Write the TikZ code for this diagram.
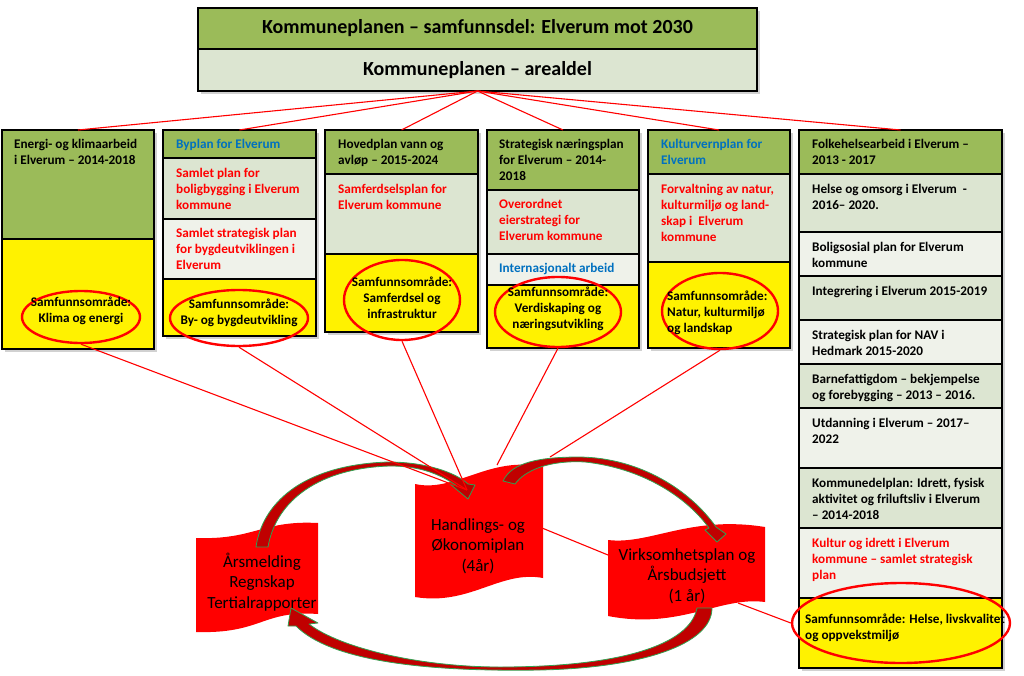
\documentclass[tikz,border=0pt]{standalone}
\usepackage{fontspec}
\setmainfont{Carlito}
\usetikzlibrary{shapes.geometric}
\definecolor{kgreen}{RGB}{155,187,89}
\definecolor{ksage}{RGB}{220,229,209}
\definecolor{kpale}{RGB}{239,242,234}
\definecolor{kblue}{RGB}{0,112,192}
\definecolor{kdarkred}{RGB}{192,0,0}
\definecolor{kline}{RGB}{50,160,80}
\begin{document}
\begin{tikzpicture}[x=1pt,y=-1pt,
	cell/.style={draw=black,line width=1.5pt,inner sep=0pt,outer sep=0pt,anchor=north west},
	txt/.style={anchor=north west,align=left,inner sep=0pt,font=\bfseries\fontsize{13.2}{16}\selectfont},
	ring/.style={ellipse,draw=red,line width=2.4pt,inner sep=0pt},
	rtxt/.style={align=center,inner sep=0pt,font=\bfseries\fontsize{13.2}{16}\selectfont},
	link/.style={draw=red,line width=1.1pt},
	wave/.style={fill=red},
	wtxt/.style={align=center,inner sep=0pt,font=\fontsize{17}{20.5}\selectfont},
	swoop/.style={fill=kdarkred,draw=kline,line width=0.8pt,line join=round}]
	\useasboundingbox (0,0) rectangle (1024,676);

	%shadows
	\fill[black,opacity=0.18] (201,11) rectangle (760,94);
	\fill[black,opacity=0.18] (5,133) rectangle (157,352);
	\fill[black,opacity=0.18] (166,133) rectangle (319,339);
	\fill[black,opacity=0.18] (328,133) rectangle (481,335);
	\fill[black,opacity=0.18] (490,133) rectangle (642,351);
	\fill[black,opacity=0.18] (651,133) rectangle (793,351);
	\fill[black,opacity=0.18] (802,133) rectangle (1005,671);

	%kommuneplan
	\node[cell,fill=kgreen,minimum width=559pt,minimum height=41pt,anchor=north west,font=\bfseries\fontsize{20}{24}\selectfont] (plan1) at (198,8) {Kommuneplanen – samfunnsdel: Elverum mot 2030};
	\node[cell,fill=ksage,minimum width=559pt,minimum height=42pt,font=\bfseries\fontsize{20}{24}\selectfont] (plan2) at (198,49) {Kommuneplanen – arealdel};

	%energi og klima
	\node[cell,fill=kgreen,minimum width=152pt,minimum height=109pt] (k1) at (2,130) {};
	\node[cell,fill=yellow,minimum width=152pt,minimum height=110pt] (y1) at (2,239) {};
	\node[txt] (t1) at (14,139) {Energi- og klimaarbeid\\i Elverum – 2014-2018};
	\node[ring,minimum width=118pt,minimum height=52pt] (e1) at (81,317) {};
	\node[rtxt] (s1) at (81,311) {Samfunnsområde:\\Klima og energi};

	%byplan
	\node[cell,fill=kgreen,minimum width=153pt,minimum height=28pt] (k2) at (163,130) {};
	\node[cell,fill=ksage,minimum width=153pt,minimum height=61pt] (c2a) at (163,158) {};
	\node[cell,fill=kpale,minimum width=153pt,minimum height=60pt] (c2b) at (163,219) {};
	\node[cell,fill=yellow,minimum width=153pt,minimum height=57pt] (y2) at (163,279) {};
	\node[txt,text=kblue] (t2) at (176,139) {Byplan for Elverum};
	\node[txt,text=red] (t2a) at (176,168) {Samlet plan for\\boligbygging i Elverum\\kommune};
	\node[txt,text=red] (t2b) at (176,228) {Samlet strategisk plan\\for bygdeutviklingen i\\Elverum};
	\node[ring,minimum width=138pt,minimum height=56pt] (e2) at (239,318) {};
	\node[rtxt] (s2) at (239,313) {Samfunnsområde:\\By- og bygdeutvikling};

	%vann og avløp
	\node[cell,fill=kgreen,minimum width=153pt,minimum height=44pt] (k3) at (325,130) {};
	\node[cell,fill=ksage,minimum width=153pt,minimum height=80pt] (c3a) at (325,174) {};
	\node[cell,fill=yellow,minimum width=153pt,minimum height=78pt] (y3) at (325,254) {};
	\node[txt] (t3) at (338,139) {Hovedplan vann og\\avløp – 2015-2024};
	\node[txt,text=red] (t3a) at (338,184) {Samferdselsplan for\\Elverum kommune};
	\node[ring,minimum width=116pt,minimum height=80pt] (e3) at (402,300) {};
	\node[rtxt] (s3) at (402,298) {Samfunnsområde:\\Samferdsel og\\infrastruktur};

	%næring
	\node[cell,fill=kgreen,minimum width=152pt,minimum height=60pt] (k4) at (487,130) {};
	\node[cell,fill=ksage,minimum width=152pt,minimum height=64pt] (c4a) at (487,190) {};
	\node[cell,fill=kpale,minimum width=152pt,minimum height=31pt] (c4b) at (487,254) {};
	\node[cell,fill=yellow,minimum width=152pt,minimum height=63pt] (y4) at (487,285) {};
	\node[txt] (t4) at (499,139) {Strategisk næringsplan\\for Elverum – 2014-\\2018};
	\node[txt,text=red] (t4a) at (499,199) {Overordnet\\eierstrategi for\\Elverum kommune};
	\node[txt,text=kblue] (t4b) at (499,263) {Internasjonalt arbeid};
	\node[ring,minimum width=126pt,minimum height=70pt] (e4) at (558,312) {};
	\node[rtxt] (s4) at (558,309) {Samfunnsområde:\\Verdiskaping og\\næringsutvikling};

	%kulturvern
	\node[cell,fill=kgreen,minimum width=142pt,minimum height=44pt] (k5) at (648,130) {};
	\node[cell,fill=ksage,minimum width=142pt,minimum height=88pt] (c5a) at (648,174) {};
	\node[cell,fill=yellow,minimum width=142pt,minimum height=86pt] (y5) at (648,262) {};
	\node[txt,text=kblue] (t5) at (661,139) {Kulturvernplan for\\Elverum};
	\node[txt,text=red] (t5a) at (661,184) {Forvaltning av natur,\\kulturmiljø og land-\\skap i~~Elverum\\kommune};
	\node[ring,minimum width=116pt,minimum height=76pt] (e5) at (720,311) {};
	\node[rtxt,align=left,anchor=west] (s5) at (667,313) {Samfunnsområde:\\Natur, kulturmiljø\\og landskap};

	%folkehelse
	\node[cell,fill=kgreen,minimum width=203pt,minimum height=44pt] (k6) at (799,130) {};
	\node[cell,fill=ksage,minimum width=203pt,minimum height=58pt] (c6a) at (799,174) {};
	\node[cell,fill=kpale,minimum width=203pt,minimum height=44pt] (c6b) at (799,232) {};
	\node[cell,fill=ksage,minimum width=203pt,minimum height=44pt] (c6c) at (799,276) {};
	\node[cell,fill=kpale,minimum width=203pt,minimum height=44pt] (c6d) at (799,320) {};
	\node[cell,fill=ksage,minimum width=203pt,minimum height=44pt] (c6e) at (799,364) {};
	\node[cell,fill=kpale,minimum width=203pt,minimum height=60pt] (c6f) at (799,408) {};
	\node[cell,fill=ksage,minimum width=203pt,minimum height=60pt] (c6g) at (799,468) {};
	\node[cell,fill=kpale,minimum width=203pt,minimum height=70pt] (c6h) at (799,528) {};
	\node[cell,fill=yellow,minimum width=203pt,minimum height=70pt] (y6) at (799,598) {};
	\node[txt] (t6) at (812,139) {Folkehelsearbeid i Elverum –\\2013 - 2017};
	\node[txt] (t6a) at (812,184) {Helse og omsorg i Elverum~~-\\2016– 2020.};
	\node[txt] (t6b) at (812,242) {Boligsosial plan for Elverum\\kommune};
	\node[txt] (t6c) at (812,286) {Integrering i Elverum 2015-2019};
	\node[txt] (t6d) at (812,330) {Strategisk plan for NAV i\\Hedmark 2015-2020};
	\node[txt] (t6e) at (812,374) {Barnefattigdom – bekjempelse\\og forebygging – 2013 – 2016.};
	\node[txt] (t6f) at (812,418) {Utdanning i Elverum – 2017–\\2022};
	\node[txt] (t6g) at (812,478) {Kommunedelplan: Idrett, fysisk\\aktivitet og friluftsliv i Elverum\\– 2014-2018};
	\node[txt,text=red] (t6h) at (812,538) {Kultur og idrett i Elverum\\kommune – samlet strategisk\\plan};
	\node[ring,minimum width=218pt,minimum height=80pt] (e6) at (901,623) {};
	\node[rtxt,align=left,anchor=west] (s6) at (805,628) {Samfunnsområde: Helse, livskvalitet\\og oppvekstmiljø};

	%fan from kommuneplan
	\draw[link] (plan2.south) -- (k1.north);
	\draw[link] (plan2.south) -- (k2.north);
	\draw[link] (plan2.south) -- (k3.north);
	\draw[link] (plan2.south) -- (k4.north);
	\draw[link] (plan2.south) -- (k5.north);
	\draw[link] (plan2.south) -- (k6.north);

	%wave shapes
	\fill[wave] (196,538) .. controls (255,540) and (262,520) .. (318,523) -- (318,614) .. controls (262,610) and (262,634) .. (196,632) -- cycle; %aarsmelding
	\fill[wave] (415,484) .. controls (455,493) and (490,455) .. (543,467) -- (543,578) .. controls (500,570) and (470,606) .. (415,597) -- cycle; %handlingsplan
	\fill[wave] (608,540) .. controls (650,545) and (690,515) .. (765,527) -- (765,602) .. controls (720,596) and (680,630) .. (608,616) -- cycle; %virksomhetsplan
	\node[wtxt] (am) at (262,582) {Årsmelding\\Regnskap\\Tertialrapporter};
	\node[wtxt] (hp) at (478,546) {Handlings- og\\Økonomiplan\\(4år)};
	\node[wtxt] (vp) at (687,576) {Virksomhetsplan og\\Årsbudsjett\\(1 år)};

	%curved arrows
	\filldraw[swoop] (256,547) .. controls (262,505) and (300,465) .. (388,462) .. controls (425,462) and (455,472) .. (468,484) -- (475,485) -- (468,499) -- (450,484) -- (457,486) .. controls (440,474) and (420,466) .. (390,466) .. controls (320,468) and (276,500) .. (268,547) -- cycle; %aar to handling
	\filldraw[swoop] (503,481) .. controls (512,462) and (540,457) .. (580,457) .. controls (640,458) and (690,490) .. (716,527) -- (726,534) -- (717,542) -- (705,530) -- (709,528) .. controls (685,495) and (640,468) .. (585,462) .. controls (550,460) and (525,470) .. (515,484) -- cycle; %handling to virksomhet
	\filldraw[swoop] (712,608) .. controls (712,645) and (640,668) .. (540,670) .. controls (420,672) and (330,660) .. (296,626) -- (288,626) -- (291,608) -- (318,623) -- (309,624) .. controls (340,648) and (420,667) .. (500,667) .. controls (620,667) and (690,645) .. (697,608) -- cycle; %virksomhet to aar

	%links to plans
	\coordinate (hk) at (467,490);
	\coordinate (hn) at (497,465);
	\coordinate (ht) at (550,457);
	\coordinate (hr) at (542,528);
	\coordinate (vl) at (608,555);
	\coordinate (vr) at (738,603);
	\draw[link] (e1.south) -- (hk);
	\draw[link] (e2.south) -- (hk);
	\draw[link] (e3.south) -- (hk);
	\draw[link] (e4.south) -- (hn);
	\draw[link] (e5.south) -- (ht);
	\draw[link] (hr) -- (vl);
	\draw[link] (vr) -- (e6.west);
\end{tikzpicture}
\end{document}
